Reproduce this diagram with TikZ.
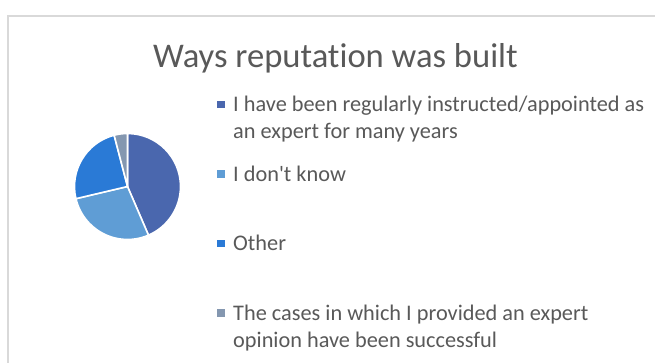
\documentclass[tikz,border=0pt]{standalone}
\usepackage{fontspec}
\setmainfont{Carlito}[Ligatures={NoCommon,TeXOff}]
\definecolor{sOne}{HTML}{4A67AE}
\definecolor{sTwo}{HTML}{5F9DD5}
\definecolor{sThree}{HTML}{2A7AD6}
\definecolor{sFour}{HTML}{8497B0}
\definecolor{txt}{HTML}{595959}
\definecolor{frame}{HTML}{D9D9D9}
\tikzset{
  slice/.style={draw=white, line width=1.6pt, line join=round},
  legtext/.style={anchor=base west, inner sep=0pt, text=txt, font=\fontsize{22.3}{26.7}\selectfont},
  legmark/.style={minimum size=7.5pt, inner sep=0pt, draw=none},
  titlestyle/.style={anchor=base, inner sep=0pt, text=txt, font=\fontsize{34.6}{40}\selectfont}
}
\begin{document}
\begin{tikzpicture}[x=1pt,y=1pt]
\useasboundingbox (0,0) rectangle (655,362);
\fill[white] (0,0) rectangle (655,362);
\begin{scope}
\clip (0,0) rectangle (655,362);
\draw[frame, line width=1.5pt] (8,-10) -- (8,346) -- (670,346);
\end{scope}
\node[titlestyle] (title) at (335.5,294) {Ways reputation was built};
% pie
\coordinate (pc) at (127.5,175.5);
\def\rr{53pt}
\filldraw[slice, fill=sOne] (pc) -- ++(90:\rr) arc[start angle=90, end angle=-66.7, radius=\rr] -- cycle;
\filldraw[slice, fill=sTwo] (pc) -- ++(-66.7:\rr) arc[start angle=-66.7, end angle=-166.7, radius=\rr] -- cycle;
\filldraw[slice, fill=sThree] (pc) -- ++(-166.7:\rr) arc[start angle=-166.7, end angle=-255.4, radius=\rr] -- cycle;
\filldraw[slice, fill=sFour] (pc) -- ++(-255.4:\rr) arc[start angle=-255.4, end angle=-270, radius=\rr] -- cycle;
% legend
\node[legmark, fill=sOne] (m1) at (221,257.7) {};
\node[legtext] (t1a) at (233,250.5) {I have been regularly instructed/appointed as};
\node[legtext] (t1b) at (233,223.8) {an expert for many years};
\node[legmark, fill=sTwo] (m2) at (221,188.2) {};
\node[legtext] (t2) at (233,181) {I don't know};
\node[legmark, fill=sThree] (m3) at (221,118.5) {};
\node[legtext] (t3) at (233,111.3) {Other};
\node[legmark, fill=sFour] (m4) at (221,48.9) {};
\node[legtext] (t4a) at (233,41.7) {The cases in which I provided an expert};
\node[legtext] (t4b) at (233,15) {opinion have been successful};
\end{tikzpicture}
\end{document}
